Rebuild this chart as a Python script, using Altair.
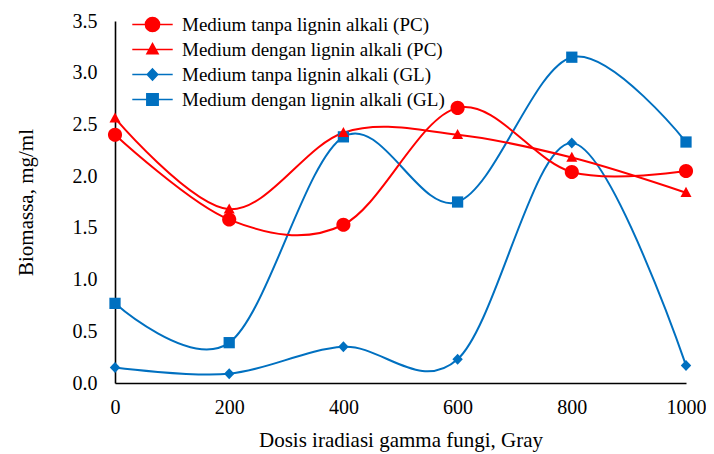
import altair as alt
import pandas as pd

dose = [0, 200, 400, 600, 800, 1000]
series_names = [
    "Medium tanpa lignin alkali (PC)",
    "Medium dengan lignin alkali (PC)",
    "Medium tanpa lignin alkali (GL)",
    "Medium dengan lignin alkali (GL)",
]
pc_tanpa = [2.40, 1.58, 1.53, 2.66, 2.04, 2.05]
pc_dengan = [2.56, 1.68, 2.42, 2.40, 2.18, 1.84]
gl_tanpa = [0.15, 0.09, 0.35, 0.23, 2.32, 0.17]
gl_dengan = [0.77, 0.39, 2.38, 1.75, 3.15, 2.33]

colors = ["#FF0000", "#FF0000", "#0070C0", "#0070C0"]
marker_paths = [
    "M-1.15,0A1.15,1.15,0,1,0,1.15,0A1.15,1.15,0,1,0,-1.15,0Z",
    "M0,-0.95L0.9,0.7L-0.9,0.7Z",
    "M0,-0.9L0.85,0L0,0.9L-0.85,0Z",
    "M-0.92,-0.92H0.92V0.92H-0.92Z",
]
legend_paths = [p + " M-3.3,0H3.3" for p in marker_paths]

values_by_series = [pc_tanpa, pc_dengan, gl_tanpa, gl_dengan]
draw_order = [2, 3, 0, 1]  # blue drawn first, red on top
rows = []
for i in draw_order:
    for d, v in zip(dose, values_by_series[i]):
        rows.append({"dose": d, "value": v, "series": series_names[i]})
df = pd.DataFrame(rows)

x_enc = alt.X(
    "dose:Q",
    scale=alt.Scale(domain=[0, 1000], nice=False),
    axis=alt.Axis(
        values=dose,
        format="d",
        title="Dosis iradiasi gamma fungi, Gray",
        labelFlush=False,
        labelPadding=14,
        titlePadding=12,
    ),
)
y_enc = alt.Y(
    "value:Q",
    scale=alt.Scale(domain=[0, 3.5], nice=False),
    axis=alt.Axis(
        values=[0, 0.5, 1.0, 1.5, 2.0, 2.5, 3.0, 3.5],
        format=".1f",
        title="Biomassa, mg/ml",
        labelPadding=18,
        titlePadding=36,
    ),
)

lines = alt.Chart(df).mark_line(interpolate="cardinal", strokeWidth=2).encode(
    x=x_enc,
    y=y_enc,
    color=alt.Color("series:N", scale=alt.Scale(domain=series_names, range=colors), legend=None),
    detail="series:N",
    order=alt.Order("dose:Q"),
)

point_layers = []
for i in draw_order:
    point_layers.append(
        alt.Chart(df)
        .transform_filter(alt.datum.series == series_names[i])
        .mark_point(filled=True, size=150, opacity=1)
        .encode(x=x_enc, y=y_enc, shape=alt.value(marker_paths[i]), color=alt.value(colors[i]))
    )

legend = alt.Legend(
    title=None,
    orient="none",
    legendX=28,
    legendY=-6,
    labelFont="Liberation Serif",
    labelFontSize=19,
    labelColor="#000000",
    labelOffset=20,
    rowPadding=5,
    symbolSize=150,
    symbolStrokeWidth=1.6,
    symbolOpacity=1,
    padding=0,
    labelLimit=400,
)
legend_layer = (
    alt.Chart(df)
    .mark_point(filled=True, size=150, strokeWidth=1.6, opacity=0)
    .encode(
        x=x_enc,
        y=y_enc,
        shape=alt.Shape("series:N", scale=alt.Scale(domain=series_names, range=legend_paths), legend=legend),
        fill=alt.Fill("series:N", scale=alt.Scale(domain=series_names, range=colors), legend=legend),
        stroke=alt.Stroke("series:N", scale=alt.Scale(domain=series_names, range=colors), legend=legend),
    )
)

chart = (
    alt.layer(legend_layer, lines, *point_layers)
    .properties(
        width=571,
        height=362,
        autosize=alt.AutoSizeParams(type="none"),
        padding={"left": 107, "top": 13, "right": 20, "bottom": 71},
    )
    .configure_view(stroke=None)
    .configure_axis(
        grid=False,
        ticks=False,
        domainColor="#000000",
        domainWidth=1.6,
        labelFont="Liberation Serif",
        labelFontSize=20,
        labelColor="#000000",
        titleFont="Liberation Serif",
        titleFontSize=21,
        titleFontWeight="normal",
        titleColor="#000000",
    )
)

chart.save("out.html", embed_options={"renderer": "svg", "actions": False})
